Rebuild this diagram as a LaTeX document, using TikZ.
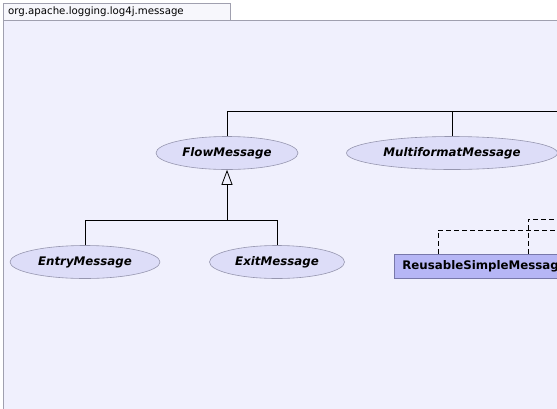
\documentclass[tikz,border=0pt]{standalone}
\usepackage{fontspec}
\setmainfont{DejaVu Sans}
\usetikzlibrary{arrows.meta,shapes.geometric}

\definecolor{panelbg}{RGB}{240,240,253}
\definecolor{tabbg}{RGB}{247,247,252}
\definecolor{framegray}{RGB}{160,160,175}
\definecolor{ifacefill}{RGB}{221,221,248}
\definecolor{ifaceline}{RGB}{150,150,175}
\definecolor{classfill}{RGB}{182,182,245}
\definecolor{classline}{RGB}{120,120,170}

\tikzset{
  iface/.style={ellipse,draw=ifaceline,fill=ifacefill,line width=0.6pt,
    font=\fontsize{11.8}{14}\selectfont\bfseries\itshape,inner sep=0pt},
  klass/.style={rectangle,draw=classline,fill=classfill,line width=0.8pt,
    font=\fontsize{11.8}{14}\selectfont\bfseries,anchor=west,
    minimum height=24pt,inner xsep=8pt,inner ysep=0pt},
  extends/.style={-{Triangle[open,length=15pt,width=11pt]},line width=0.8pt},
  tree/.style={line width=0.8pt},
  realize/.style={dashed,dash pattern=on 5pt off 3pt,line width=0.8pt}
}

\begin{document}
\begin{tikzpicture}[x=1pt,y=-1pt]
  \useasboundingbox (0,0) rectangle (557,408);
  \clip (0,0) rectangle (557,408);
  % package frame and tab
  \fill[white] (0,0) rectangle (557,408);
  \draw[framegray,fill=panelbg] (3,20) rectangle (620,460);
  \draw[framegray,fill=tabbg] (3,3) rectangle (230,20);
  \node[anchor=west,inner sep=0pt,font=\fontsize{10.2}{12}\selectfont] (pkg) at (8,12) {org.apache.logging.log4j.message};

  % interfaces
  \node[iface,minimum width=142pt,minimum height=33pt] (flow) at (227,153) {FlowMessage};
  \node[iface,minimum width=211pt,minimum height=33pt] (multi) at (452,153) {MultiformatMessage};
  \node[iface,minimum width=150pt,minimum height=33pt] (entry) at (85,262) {EntryMessage};
  \node[iface,minimum width=135pt,minimum height=33pt] (exit) at (277,262) {ExitMessage};

  % classes
  \node[klass,minimum width=190pt,align=left,text width=174pt] (rsm) at (394,266) {ReusableSimpleMessage};

  % free ends off the right edge
  \coordinate (toprow) at (600,111);
  \coordinate (dashA) at (600,230);
  \coordinate (dashB) at (600,219);
  \coordinate (fork) at (227,220);

  % inheritance
  \draw[tree] (flow.north) |- (toprow);
  \draw[tree] (multi.north) -- (multi.north |- toprow);
  \draw[tree] (entry.north) |- (fork);
  \draw[tree] (exit.north) |- (fork);
  \draw[extends] (fork) -- (flow.south);

  % implementation
  \draw[realize] (rsm.north west) ++(44,0) |- (dashA);
  \draw[realize] (rsm.north west) ++(134,0) |- (dashB);
\end{tikzpicture}
\end{document}
